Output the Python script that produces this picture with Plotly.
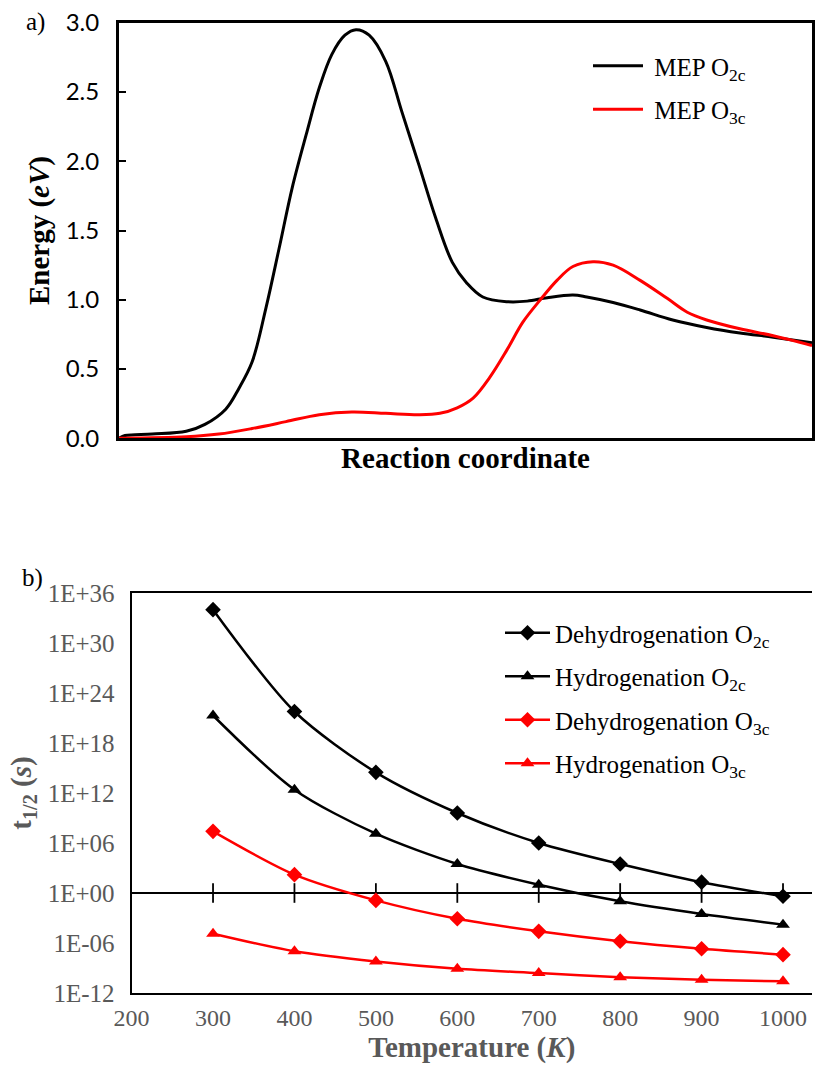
import plotly.graph_objects as go

# ---------- Panel a) data ----------
rc_o2c = [0, 0.87, 4.8, 9.7, 12.4, 15.4, 17.3, 19.2, 21.2, 23.1, 25.0, 27.0, 28.9, 30.7, 32.6,
          34.2, 36.1, 38.5, 40.8, 43.3, 45.7, 48.1, 50.2, 52.5, 56.0, 58.9, 61.8, 65.5, 67.5,
          71.3, 75.2, 79.9, 84.8, 89.6, 94.4, 100]
e_o2c = [0.0, 0.02, 0.03, 0.05, 0.10, 0.21, 0.36, 0.55, 0.94, 1.37, 1.81, 2.19, 2.53, 2.77, 2.91,
         2.95, 2.91, 2.72, 2.36, 1.97, 1.59, 1.27, 1.12, 1.02, 0.986, 0.99, 1.015, 1.034, 1.02,
         0.98, 0.926, 0.854, 0.80, 0.76, 0.73, 0.69]
rc_o3c = [0, 9.7, 14.4, 19.2, 24.1, 28.9, 33.6, 38.5, 43.3, 46.3, 48.8, 51.1, 53.5, 56.0, 58.3,
          60.8, 63.2, 65.5, 68.4, 71.3, 75.2, 79.1, 82.0, 84.8, 89.6, 94.4, 100]
e_o3c = [0.0, 0.01, 0.03, 0.07, 0.12, 0.17, 0.19, 0.18, 0.17, 0.18, 0.22, 0.29, 0.44, 0.64, 0.84,
         1.0, 1.14, 1.24, 1.275, 1.25, 1.14, 1.01, 0.91, 0.854, 0.79, 0.74, 0.67]
energy_ticks = [0.0, 0.5, 1.0, 1.5, 2.0, 2.5, 3.0]

# ---------- Panel b) data ----------
temperature = [300, 400, 500, 600, 700, 800, 900, 1000]
dehyd_o2c = [1e34, 6e21, 3e14, 4e9, 1e6, 3e3, 20, 0.4]
hyd_o2c = [2e21, 2.5e12, 1.3e7, 3e3, 10, 0.1, 3e-3, 1.6e-4]
dehyd_o3c = [2.5e7, 160, 0.13, 8e-4, 2.5e-5, 1.6e-6, 2e-7, 4e-8]
hyd_o3c = [1.3e-5, 1e-7, 6e-9, 8e-10, 2.5e-10, 8e-11, 4e-11, 2.5e-11]
t_ticks = [200, 300, 400, 500, 600, 700, 800, 900, 1000]
exp_ticks = [-12, -6, 0, 6, 12, 18, 24, 30, 36]
exp_labels = ["1E-12", "1E-06", "1E+00", "1E+06", "1E+12", "1E+18", "1E+24", "1E+30", "1E+36"]

W, H = 817, 1065
SERIF = "Liberation Serif"
GRAY = "#595959"
NB = "\u00a0"

fig = go.Figure()

# panel a
fig.add_trace(go.Scatter(x=rc_o2c, y=e_o2c, mode="lines", name=NB + "MEP O<sub>2c</sub>",
                         line=dict(color="black", width=3, shape="spline", smoothing=1.0),
                         xaxis="x", yaxis="y", legend="legend", legendgroup="a1"))
fig.add_trace(go.Scatter(x=rc_o3c, y=e_o3c, mode="lines", name=NB + "MEP O<sub>3c</sub>",
                         line=dict(color="red", width=3, shape="spline", smoothing=1.0),
                         xaxis="x", yaxis="y", legend="legend", legendgroup="a2"))

# panel b: axis line at 1E+00 with crossing tick marks
xmax_b = 1035.6
fig.add_trace(go.Scatter(x=[200, xmax_b], y=[1, 1], mode="lines",
                         line=dict(color="black", width=2), showlegend=False,
                         hoverinfo="skip", xaxis="x2", yaxis="y2"))
fig.add_trace(go.Scatter(x=temperature, y=[1] * len(temperature), mode="markers",
                         marker=dict(symbol="line-ns", size=14, line=dict(color="black", width=1.8)),
                         showlegend=False, hoverinfo="skip", xaxis="x2", yaxis="y2"))

series_b = [
    ("Dehydrogenation O<sub>2c</sub>", dehyd_o2c, "black", "diamond", 12),
    ("Hydrogenation O<sub>2c</sub>", hyd_o2c, "black", "triangle-up", 12),
    ("Dehydrogenation O<sub>3c</sub>", dehyd_o3c, "red", "diamond", 12),
    ("Hydrogenation O<sub>3c</sub>", hyd_o3c, "red", "triangle-up", 12),
]
for i, (nm, vals, col, sym, sz) in enumerate(series_b):
    fig.add_trace(go.Scatter(x=temperature, y=vals, mode="lines+markers", name=nm,
                             line=dict(color=col, width=2.5, shape="spline", smoothing=0.8),
                             marker=dict(symbol=sym, size=sz, color=col),
                             xaxis="x2", yaxis="y2", legend="legend2", legendgroup="b%d" % i))

fig.update_layout(
    width=W, height=H,
    margin=dict(l=0, r=0, t=0, b=0, autoexpand=False),
    paper_bgcolor="white", plot_bgcolor="white",
    font=dict(family=SERIF, color="black"),
    xaxis=dict(domain=[119 / W, 812 / W], range=[0, 100], showgrid=False, zeroline=False,
               showticklabels=False, ticks="", showline=True, linecolor="black", linewidth=3,
               mirror=True, automargin=False,
               title=dict(text="<b>Reaction coordinate</b>", font=dict(family=SERIF, size=29, color="black"),
                          standoff=8)),
    yaxis=dict(domain=[1 - 438.25 / H, 1 - 22.75 / H], range=[0, 3.0], tickvals=energy_ticks,
               ticktext=["%.1f" % v for v in energy_ticks], automargin=False,
               showgrid=False, zeroline=False, ticks="inside", ticklen=7, tickwidth=2,
               tickcolor="black", showline=True, linecolor="black", linewidth=3, mirror=True,
               ticklabelstandoff=12,
               tickfont=dict(family="Lato", size=24, color="black"),
               title=dict(text="<b>Energy (<i>eV</i>)</b>", font=dict(family=SERIF, size=29, color="black"),
                          standoff=8)),
    xaxis2=dict(domain=[131.6 / W, 812 / W], range=[200, xmax_b], tickvals=t_ticks,
                showgrid=False, zeroline=False, ticks="", showline=True, linecolor="black",
                linewidth=2, mirror=True, anchor="y2", automargin=False, ticklabelstandoff=2,
                tickfont=dict(family=SERIF, size=24, color=GRAY),
                title=dict(text="<b>Temperature (<i>K</i>)</b>", font=dict(family=SERIF, size=29, color=GRAY),
                           standoff=0)),
    yaxis2=dict(domain=[1 - 993 / H, 1 - 593 / H], type="log", range=[-12, 36],
                tickvals=[10.0 ** e for e in exp_ticks], ticktext=exp_labels,
                showgrid=False, zeroline=False, ticks="", showline=True, linecolor="black",
                linewidth=2, mirror=False, anchor="x2", automargin=False, ticklabelstandoff=10,
                tickfont=dict(family=SERIF, size=25, color=GRAY),
                title=dict(text="<b>t<sub>1/2</sub> (<i>s</i>)</b>", font=dict(family=SERIF, size=29, color=GRAY),
                           standoff=8)),
    legend=dict(x=588 / W, y=1 - 43 / H, xanchor="left", yanchor="top",
                font=dict(family=SERIF, size=25, color="black"), bgcolor="rgba(0,0,0,0)",
                tracegroupgap=8, itemwidth=50),
    legend2=dict(x=500 / W, y=1 - 610 / H, xanchor="left", yanchor="top",
                 font=dict(family=SERIF, size=25, color="black"), bgcolor="rgba(0,0,0,0)",
                 tracegroupgap=8, itemwidth=45),
    annotations=[
        dict(text="a)", x=24 / W, y=1 - 22 / H, xref="paper", yref="paper", xanchor="left",
             yanchor="middle", showarrow=False, font=dict(family=SERIF, size=25, color="black")),
        dict(text="b)", x=20 / W, y=1 - 578 / H, xref="paper", yref="paper", xanchor="left",
             yanchor="middle", showarrow=False, font=dict(family=SERIF, size=25, color="black")),
    ],
)

fig.write_html("out.html")
